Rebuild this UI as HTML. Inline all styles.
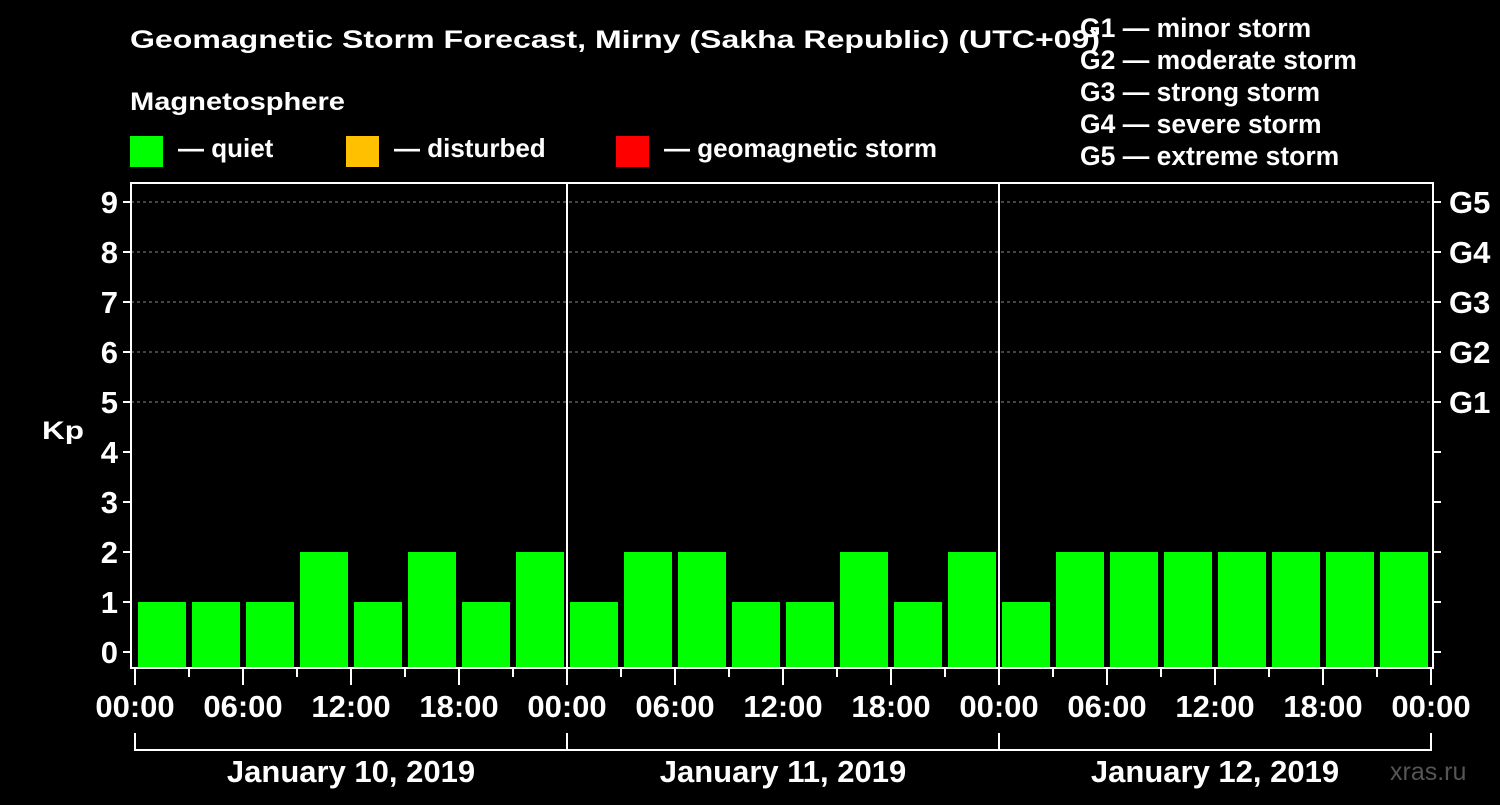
<!DOCTYPE html>
<html><head><meta charset="utf-8"><style>
body{margin:0;background:#000;width:1500px;height:800px;overflow:hidden}
svg text{font-family:"Liberation Sans",sans-serif;font-weight:bold;fill:#fff}
</style></head><body>
<svg id="c" width="1500" height="800">
<text x="130" y="48" font-size="25" textLength="970" lengthAdjust="spacingAndGlyphs">Geomagnetic Storm Forecast, Mirny (Sakha Republic) (UTC+09)</text>
<text x="130" y="110" font-size="25" textLength="215" lengthAdjust="spacingAndGlyphs">Magnetosphere</text>
<g><rect x="130" y="136" width="33" height="31" fill="#00ff00"/><text x="178" y="157" font-size="26">— quiet</text></g>
<g><rect x="346" y="136" width="33" height="31" fill="#ffc000"/><text x="394" y="157" font-size="26">— disturbed</text></g>
<g><rect x="616" y="136" width="33" height="31" fill="#ff0000"/><text x="664" y="157" font-size="26">— geomagnetic storm</text></g>
<g font-size="26.5">
<text x="1080" y="37">G1 — minor storm</text><text x="1080" y="69">G2 — moderate storm</text><text x="1080" y="101">G3 — strong storm</text><text x="1080" y="133">G4 — severe storm</text><text x="1080" y="165">G5 — extreme storm</text></g>
<text x="42" y="439" font-size="25" textLength="42" lengthAdjust="spacingAndGlyphs">Kp</text>
<text x="1390" y="780" font-size="25" style="fill:#555;font-weight:normal">xras.ru</text>
<g id="plot"></g>
</svg>
<script>
const kpValues=[1,1,1,2,1,2,1,2, 1,2,2,1,1,2,1,2, 1,2,2,2,2,2,2,2];
const dayLabels=["January 10, 2019","January 11, 2019","January 12, 2019"];
const yTicks=[0,1,2,3,4,5,6,7,8,9];
const gLabels=["G1","G2","G3","G4","G5"];
const timeLabels=["00:00","06:00","12:00","18:00"];
const NS="http://www.w3.org/2000/svg";
const g=document.getElementById('plot');
const L=131,R=1433,T=183,B=668,X0=135,slot=54;
const y=v=>652-50*v;
const x=i=>X0+slot*i;
function mk(t,a,p){const e=document.createElementNS(NS,t);for(const k in a)e.setAttribute(k,a[k]);(p||g).appendChild(e);return e;}
yTicks.forEach(v=>{
 if(v>=5){const l=mk('line',{x1:L,x2:R,y1:y(v),y2:y(v),stroke:'#888','stroke-dasharray':'3,3','stroke-width':1});
 
 }
 const t=mk('line',{x1:L-8,x2:L,y1:y(v),y2:y(v),stroke:'#fff','stroke-width':2});
 
 
 const t2=mk('line',{x1:R,x2:R+8,y1:y(v),y2:y(v),stroke:'#fff','stroke-width':2});
 
 
 const tx=mk('text',{x:L-13,y:y(v)+11,'text-anchor':'end','font-size':31});tx.textContent=v;
 
 
});
gLabels.forEach((s,i)=>{const tx=mk('text',{x:R+16,y:y(5+i)+11,'font-size':31});tx.textContent=s;
 
 });
kpValues.forEach((v,i)=>{
 const c=v>=5?'#ff0000':v>=4?'#ffc000':'#00ff00';
 const b=mk('rect',{x:x(i)+3,y:y(v),width:48,height:667-y(v),fill:c});
 
 
});
const ax=mk('rect',{x:L,y:T,width:R-L,height:B-T,fill:'none',stroke:'#fff','stroke-width':2});


const nd=kpValues.length/8;
for(let d=0;d<=nd;d++){
 const xx=x(d*8);
 if(d>0&&d<nd){const l=mk('line',{x1:xx,x2:xx,y1:T,y2:B,stroke:'#fff','stroke-width':2});
 
 }
 const bl=mk('line',{x1:xx,x2:xx,y1:733,y2:751,stroke:'#fff','stroke-width':2});
 
 
}
const hb=mk('line',{x1:x(0),x2:x(kpValues.length),y1:750,y2:750,stroke:'#fff','stroke-width':2});


for(let i=0;i<=kpValues.length;i++){
 const major=i%2===0;
 const t=mk('line',{x1:x(i),x2:x(i),y1:B,y2:major?685:677,stroke:'#fff','stroke-width':2});
 
 
 if(major){const tx=mk('text',{x:x(i),y:717,'text-anchor':'middle','font-size':31});tx.textContent=timeLabels[(i/2)%4];
 
 }
}
dayLabels.forEach((s,d)=>{const tx=mk('text',{x:x(d*8+4),y:782,'text-anchor':'middle','font-size':31});tx.textContent=s;
 
 });
</script>
</body></html>
